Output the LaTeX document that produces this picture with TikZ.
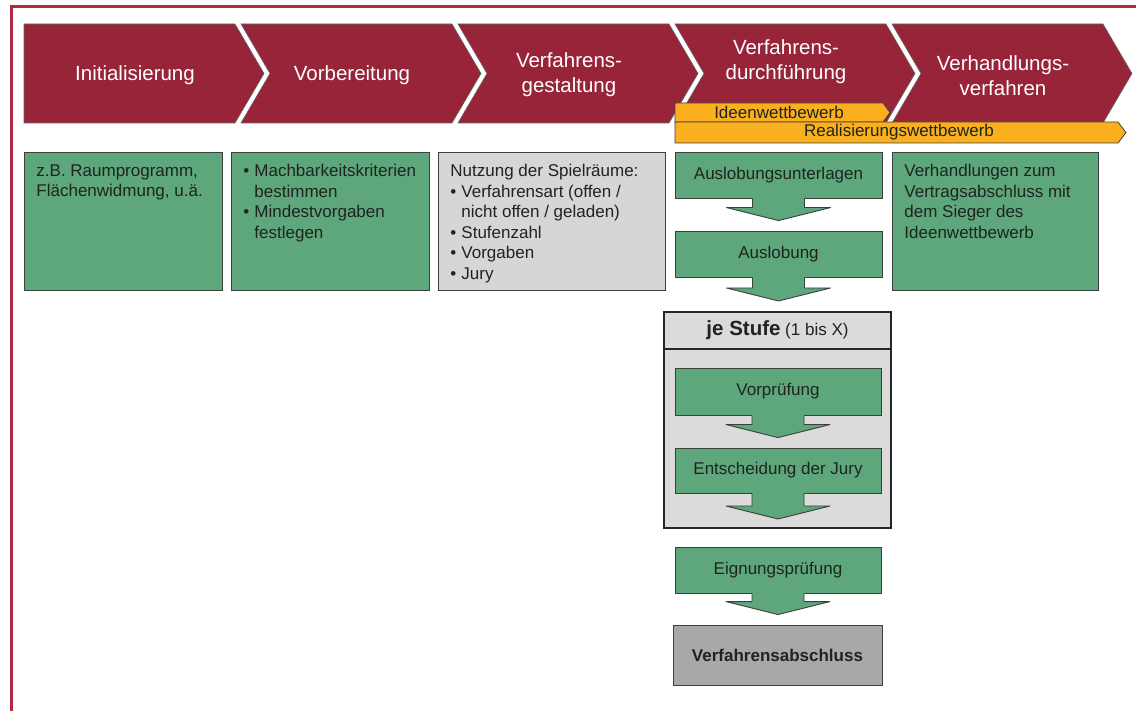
\documentclass[tikz,border=0pt]{standalone}
\usepackage{fontspec}
\setmainfont{Liberation Sans}
\usetikzlibrary{calc}
\definecolor{RD}{RGB}{152,36,58}
\definecolor{FR}{RGB}{176,42,68}
\definecolor{GN}{RGB}{94,166,124}
\definecolor{OR}{RGB}{250,176,30}
\definecolor{GY}{RGB}{214,214,214}
\definecolor{LG}{RGB}{220,218,218}
\definecolor{DG}{RGB}{168,168,168}
\definecolor{BD}{RGB}{60,64,60}
\definecolor{TX}{RGB}{30,36,30}
\newcommand{\bul}[1]{\par\hangindent=11pt\hangafter=1\noindent\makebox[11pt][l]{\textbullet}#1}
\newcommand{\boxtxt}[3]{\parbox[c][#2pt][t]{#1pt}{\raggedright #3}}
\newcommand{\flowarrow}[2]{%
  \path (#1.south) coordinate (fa) (fa |- #2) coordinate (fb);
  \fill[GN] ($(fa)+(-26,-1.5)$) -- ($(fb)+(-26,-23)$) -- ($(fb)+(-52,-23)$) -- ($(fb)+(0,-10)$) -- ($(fb)+(52,-23)$) -- ($(fb)+(26,-23)$) -- ($(fa)+(26,-1.5)$) -- cycle;
  \draw[edge] ($(fa)+(-26,0)$) -- ($(fb)+(-26,-23)$) -- ($(fb)+(-52,-23)$) -- ($(fb)+(0,-10)$) -- ($(fb)+(52,-23)$) -- ($(fb)+(26,-23)$) -- ($(fa)+(26,0)$);
}

\begin{document}
\begin{tikzpicture}[x=1pt, y=-1pt,
    every node/.style={font=\fontsize{17}{20.5}\selectfont, text=TX},
    edge/.style={draw=BD, line width=0.9pt, line join=round},
    chev/.style={fill=RD, draw=black!60, line width=0.6pt},
    chevtext/.style={font=\fontsize{20.5}{25}\selectfont, text=white, align=center},
    bar/.style={fill=OR, draw=BD, line width=0.8pt},
    infobox/.style={draw=BD, line width=0.9pt, fill=GN, anchor=north west, inner xsep=12pt, inner ysep=12pt},
    colbox/.style={draw=BD, line width=0.9pt, fill=GN, minimum width=207pt, minimum height=46pt, inner sep=0pt}]
  \useasboundingbox (0,0) rectangle (1136,711);
  \draw[FR, line width=3pt] (1136,6.5) -- (11,6.5) -- (11,711);
  \foreach \x/\n/\nm/\ty/\txt in {24/0/ini/75/Initialisierung, 241/29/vor/75/Vorbereitung, 458/29/ges/75/{Verfahrens-\\gestaltung}, 675/29/dur/62/{Verfahrens-\\durchführung}, 892/29/ver/76/{Verhandlungs-\\verfahren}} {
    \draw[chev] (\x,24) -- ++(211,0) -- ++(29,49.5) -- ++(-29,49.5) -- ++(-211,0) -- ++(\n,-49.5) -- cycle;
    \node[chevtext] (\nm) at (\x+111,\ty) {\txt};
  }
  \draw[bar] (675,103) -- (883,103) -- (890,112.5) -- (883,122) -- (675,122) -- cycle;
  \draw[bar] (675,122) -- (1118,122) -- (1126,132.5) -- (1118,143) -- (675,143) -- cycle;
  \node (ideen) at (779,112.5) {Ideenwettbewerb};
  \node (real) at (899,132.5) {Realisierungswettbewerb};

  \node[infobox] (raum) at (24,152) {\boxtxt{174}{114}{z.B. Raumprogramm,\newline Flächenwidmung, u.ä.}};
  \node[infobox] (mach) at (231,152) {\boxtxt{174}{114}{\bul{Machbarkeitskriterien\newline bestimmen}\bul{Mindestvorgaben\newline festlegen}}};
  \node[infobox, fill=GY] (spiel) at (438,152) {\boxtxt{203}{114}{Nutzung der Spielräume:\bul{Verfahrensart (offen /\newline nicht offen / geladen)}\bul{Stufenzahl}\bul{Vorgaben}\bul{Jury}}};
  \node[infobox] (verh) at (892,152) {\boxtxt{182}{114}{Verhandlungen zum\newline Vertragsabschluss mit\newline dem Sieger des\newline Ideenwettbewerb}};

  \node[colbox] (unterl) at (778.5,175) {Auslobungsunterlagen};
  \node[colbox] (ausl) at (778.5,254) {Auslobung};
  \node[draw=black!85, line width=2pt, fill=LG, minimum width=227pt, minimum height=216pt] (stufe) at (777.5,420) {};
  \node[draw=black!85, line width=2pt, fill=LG, minimum width=227pt, minimum height=37pt, anchor=north] (kopf) at (stufe.north) {{\fontsize{20.5}{24}\selectfont\bfseries je Stufe} (1 bis X)};
  \node[colbox, minimum width=206pt, minimum height=47pt] (vorp) at (778,391.5) {Vorprüfung};
  \node[colbox, minimum width=206pt, minimum height=45pt] (jury) at (778,470.5) {Entscheidung der Jury};
  \node[colbox, minimum width=206pt] (eign) at (778,570) {Eignungsprüfung};
  \node[colbox, fill=DG, minimum width=209pt, minimum height=60pt] (ende) at (777.5,655) {\textbf{Verfahrensabschluss}};

  \flowarrow{unterl}{ausl.north}
  \flowarrow{ausl}{stufe.north}
  \flowarrow{vorp}{jury.north}
  \flowarrow{jury}{stufe.south}
  \flowarrow{eign}{ende.north}
\end{tikzpicture}
\end{document}
